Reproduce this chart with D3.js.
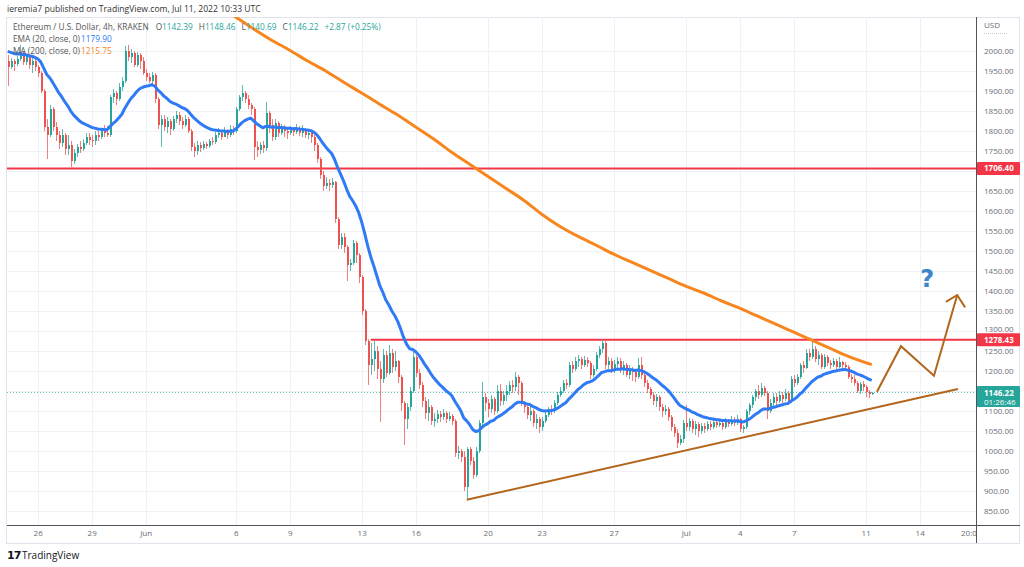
<!DOCTYPE html>
<html lang="en">
<head>
<meta charset="UTF-8">
<title>ETHUSD 4h</title>
<script src="https://d3js.org/d3.v7.min.js"></script>
<style>
body { margin: 0; background: #fff; }
svg { display: block; font-family: "Open Sans", "DejaVu Sans", sans-serif; }
</style>
</head>
<body>
<script>

var W = 1024, H = 567;
var L = 7, R = 976, T = 17, B = 525;

// 4h candles, first one May 24 08:00 UTC, open of first candle
var startTime = Date.UTC(2022, 4, 24, 8);
var firstOpen = 1975;

var closes = [
  1960,1975,1968,1980,
  1998,1972,1985,1965,1975,1960,
  1945,1900,1810,1790,1855,1810,
  1790,1770,1790,1755,1765,1725,
  1745,1760,1755,1770,1785,1778,
  1775,1790,1785,1800,1795,1790,
  1885,1895,1880,1910,1925,2000,
  1985,1995,1965,1990,1975,1945,
  1935,1925,1940,1880,1815,1830,
  1810,1825,1805,1830,1840,1825,
  1815,1830,1800,1760,1750,1765,
  1758,1768,1762,1775,1772,1790,
  1795,1785,1800,1790,1805,1800,
  1855,1885,1895,1880,1865,1855,
  1760,1752,1765,1758,1845,1815,
  1785,1820,1795,1810,1800,1795,
  1805,1798,1808,1795,1800,1790,
  1795,1785,1765,1730,1690,1662,
  1670,1665,1672,1580,1515,1535,
  1510,1465,1470,1520,1490,1435,
  1350,1275,1215,1230,1250,1205,
  1180,1240,1195,1245,1210,1225,
  1185,1120,1080,1110,1150,1235,
  1195,1165,1125,1095,1110,1075,
  1080,1092,1085,1095,1080,1088,
  1075,995,1000,985,910,1005,
  975,940,1000,1070,1135,1120,
  1105,1130,1100,1150,1125,1140,
  1150,1165,1160,1185,1170,1120,
  1110,1090,1100,1070,1080,1060,
  1075,1090,1105,1100,1120,1140,
  1150,1170,1165,1215,1205,1225,
  1230,1215,1228,1220,1190,1205,
  1240,1255,1270,1215,1225,1200,
  1218,1225,1205,1215,1190,1200,
  1198,1185,1215,1190,1170,1155,
  1140,1125,1135,1110,1100,1105,
  1085,1060,1045,1020,1030,1070,
  1060,1075,1055,1068,1050,1062,
  1055,1068,1060,1072,1065,1070,
  1060,1075,1068,1078,1070,1080,
  1055,1060,1100,1115,1135,1150,
  1140,1158,1145,1100,1120,1135,
  1125,1140,1130,1145,1125,1180,
  1170,1185,1215,1208,1245,1235,
  1255,1230,1240,1210,1235,1220,
  1215,1225,1210,1222,1215,1210,
  1185,1180,1170,1150,1168,1160,
  1148,1142.39,1146.22
];

var highs = [
  1990,1982,1980,1988,
  2015,2000,1992,1990,1982,1980,
  1965,1950,1905,1830,1865,1860,
  1822,1800,1805,1795,1790,1775,
  1755,1768,1775,1780,1795,1795,
  1790,1800,1800,1808,1815,1812,
  1890,1905,1900,1920,1935,2012,
  2015,2005,2000,1998,1995,1985,
  1955,1945,1948,1945,1885,1840,
  1840,1835,1830,1838,1850,1848,
  1835,1840,1835,1805,1770,1775,
  1772,1775,1772,1780,1785,1798,
  1808,1800,1810,1805,1815,1812,
  1860,1890,1915,1900,1890,1870,
  1860,1775,1772,1775,1872,1850,
  1830,1830,1825,1818,1815,1808,
  1812,1810,1818,1812,1815,1808,
  1805,1800,1790,1770,1735,1700,
  1685,1680,1682,1675,1585,1545,
  1545,1515,1480,1528,1525,1495,
  1440,1355,1280,1270,1275,1262,
  1225,1255,1250,1265,1255,1250,
  1228,1190,1125,1120,1160,1248,
  1240,1205,1172,1135,1130,1115,
  1095,1102,1100,1105,1100,1098,
  1092,1080,1012,1005,1000,1010,
  1010,985,1010,1078,1172,1145,
  1130,1140,1135,1165,1168,1150,
  1165,1175,1178,1197,1190,1175,
  1125,1115,1112,1105,1092,1085,
  1085,1098,1110,1115,1128,1148,
  1160,1178,1180,1222,1225,1235,
  1240,1235,1238,1235,1225,1215,
  1248,1262,1280,1275,1235,1232,
  1228,1235,1232,1225,1220,1215,
  1210,1202,1232,1235,1195,1178,
  1160,1148,1142,1140,1118,1115,
  1110,1090,1068,1055,1040,1078,
  1115,1082,1080,1075,1072,1070,
  1070,1075,1075,1080,1080,1078,
  1075,1082,1080,1088,1085,1090,
  1082,1065,1105,1120,1140,1155,
  1165,1170,1162,1150,1130,1145,
  1145,1150,1148,1155,1150,1188,
  1190,1192,1220,1225,1255,1255,
  1272,1262,1250,1245,1242,1240,
  1228,1232,1230,1235,1225,1222,
  1215,1192,1190,1175,1172,1175,
  1165,1152,1148.46
];

var lows = [
  1912,1955,1950,1962,
  1975,1965,1965,1955,1945,1950,
  1935,1895,1800,1730,1785,1800,
  1775,1755,1760,1740,1740,1710,
  1718,1735,1745,1750,1765,1765,
  1760,1765,1775,1780,1785,1785,
  1785,1870,1865,1875,1900,1920,
  1975,1970,1960,1960,1955,1940,
  1925,1920,1915,1870,1805,1760,
  1800,1795,1790,1800,1820,1815,
  1805,1810,1795,1750,1735,1740,
  1748,1752,1755,1758,1765,1768,
  1782,1778,1785,1780,1786,1790,
  1795,1850,1875,1870,1855,1840,
  1727,1735,1742,1745,1750,1795,
  1775,1778,1785,1790,1785,1780,
  1790,1788,1792,1788,1785,1782,
  1780,1770,1750,1720,1680,1650,
  1655,1650,1658,1570,1505,1505,
  1495,1425,1450,1465,1470,1420,
  1340,1265,1165,1190,1200,1180,
  1072,1170,1185,1190,1195,1200,
  1170,1100,1015,1055,1100,1145,
  1185,1155,1110,1080,1075,1065,
  1060,1070,1072,1078,1070,1075,
  1065,985,980,972,900,878,
  965,930,935,995,1065,1100,
  1085,1095,1090,1095,1112,1115,
  1125,1140,1145,1150,1140,1112,
  1095,1080,1075,1060,1055,1045,
  1050,1070,1085,1090,1095,1115,
  1135,1145,1155,1160,1195,1200,
  1210,1205,1210,1210,1180,1185,
  1200,1232,1245,1205,1205,1195,
  1195,1205,1195,1190,1185,1180,
  1175,1172,1180,1180,1160,1145,
  1130,1115,1110,1100,1085,1090,
  1075,1050,1035,1007,1015,1020,
  1050,1050,1045,1040,1035,1042,
  1045,1050,1052,1055,1058,1060,
  1052,1055,1060,1062,1062,1065,
  1048,1045,1055,1090,1108,1125,
  1130,1135,1138,1080,1095,1110,
  1115,1120,1120,1125,1118,1120,
  1160,1165,1180,1195,1205,1225,
  1230,1222,1215,1205,1205,1212,
  1205,1210,1205,1208,1205,1200,
  1180,1170,1162,1145,1142,1150,
  1135,1132,1140.69
];

// EMA 20 value just before the first visible candle
var emaSeed = 2003;

// MA 200, read once a day at 00:00 from Jun 5, plus the last bar
var maStart = Date.UTC(2022, 5, 5);
var maValues = [2115,2085,2055,2027,2002,1975,1950,1922,1895,1867,1840,1810,1780,1747,1717,
  1687,1657,1627,1592,1562,1537,1515,1492,1472,1452,1432,1412,1395,1375,1357,1337,1317,1297,
  1277,1257,1237];
var maLast = 1215.75;

var levels = [1706.40, 1278.43];
var lastPrice = 1146.22;

var xTickDates = ["2022-05-26","2022-05-29","2022-06-01","2022-06-06","2022-06-09","2022-06-13",
  "2022-06-16","2022-06-20","2022-06-23","2022-06-27","2022-07-01","2022-07-04","2022-07-07",
  "2022-07-11","2022-07-14","2022-07-16T20:00"];
var xTickLabels = ["26","29","Jun","6","9","13","16","20","23","27","Jul","4","7","11","14","20:00"];
var yTicks = [850,900,950,1000,1050,1100,1150,1200,1250,1300,1350,1400,1450,1500,1550,1600,
  1650,1700,1750,1800,1850,1900,1950,2000];
// axis labels covered by the price tags
var yHidden = [1700, 1150];

// drawings on the chart, [time, price]
var trendLine = [["2022-06-18T20:00Z", 878], ["2022-07-16T03:00Z", 1155]];
var zigzag = [["2022-07-11T15:00Z", 1148], ["2022-07-12T23:00Z", 1262],
  ["2022-07-14T19:00Z", 1188], ["2022-07-16T02:00Z", 1390]];
var arrowWings = [["2022-07-15T11:00Z", 1373], ["2022-07-16T02:00Z", 1390], ["2022-07-16T12:30Z", 1359]];
var questionMark = ["2022-07-14T10:00Z", 1410];
var resistStart = "2022-06-13T12:00Z";

var up = "#26a69a", down = "#ef5350";

function utc(s) { return new Date(s.length === 10 ? s + "T00:00Z" : (s.slice(-1) === "Z" ? s : s + "Z")); }

var x = d3.scaleUtc()
    .domain([new Date(Date.UTC(2022, 4, 24, 7, 4)), new Date(Date.UTC(2022, 6, 17, 3, 4))])
    .range([L, R]);
var y = d3.scaleLinear().domain([815, 2085]).range([B, T]);

var candles = closes.map(function(c, i) {
  var o = i === 0 ? firstOpen : closes[i - 1];
  return { t: new Date(startTime + i * 4 * 3600e3), o: o, c: c,
           h: Math.max(highs[i], o, c), l: Math.min(lows[i], o, c) };
});

var ema = [], prev = emaSeed, k = 2 / 21;
candles.forEach(function(d) {
  prev = d.c * k + prev * (1 - k);
  ema.push({ t: d.t, v: prev });
});

var ma = maValues.map(function(v, i) { return { t: new Date(maStart + i * 864e5), v: v }; });
ma.push({ t: candles[candles.length - 1].t, v: maLast });

var svg = d3.select("body").append("svg").attr("width", W).attr("height", H);

var defs = svg.append("defs");
defs.append("clipPath").attr("id", "plot")
  .append("rect").attr("x", L).attr("y", T).attr("width", R - L).attr("height", B - T);
defs.append("clipPath").attr("id", "xclip")
  .append("rect").attr("x", L).attr("y", B).attr("width", R - L).attr("height", 17);

// frame
svg.append("rect").attr("x", L - 0.5).attr("y", T + 0.5).attr("width", 1020 - L).attr("height", 543 - T)
  .attr("fill", "none").attr("stroke", "#e0e3eb");

// grid
var grid = svg.append("g").attr("clip-path", "url(#plot)");
grid.selectAll(".hg").data(yTicks).enter().append("line")
  .attr("x1", L).attr("x2", R)
  .attr("y1", function(d) { return Math.round(y(d)) + 0.5; })
  .attr("y2", function(d) { return Math.round(y(d)) + 0.5; })
  .attr("stroke", "#eef1f6");
grid.selectAll(".vg").data(xTickDates.slice(0, -1)).enter().append("line")
  .attr("y1", T).attr("y2", B)
  .attr("x1", function(d) { return Math.round(x(utc(d))) + 0.5; })
  .attr("x2", function(d) { return Math.round(x(utc(d))) + 0.5; })
  .attr("stroke", "#eef1f6");

var plot = svg.append("g").attr("clip-path", "url(#plot)");

// horizontal levels
plot.append("line").attr("x1", L).attr("x2", R)
  .attr("y1", y(levels[0])).attr("y2", y(levels[0]))
  .attr("stroke", "#f23645").attr("stroke-width", 2);
plot.append("line").attr("x1", x(utc(resistStart))).attr("x2", R)
  .attr("y1", y(levels[1])).attr("y2", y(levels[1]))
  .attr("stroke", "#f23645").attr("stroke-width", 2);

// last price dotted line
plot.append("line").attr("x1", L).attr("x2", R)
  .attr("y1", y(lastPrice)).attr("y2", y(lastPrice))
  .attr("stroke", up).attr("stroke-dasharray", "1,2").attr("opacity", 0.7);

// candles
var cg = plot.append("g").attr("shape-rendering", "crispEdges");
cg.selectAll(".wick").data(candles).enter().append("line")
  .attr("x1", function(d) { return Math.round(x(d.t)) + 0.5; })
  .attr("x2", function(d) { return Math.round(x(d.t)) + 0.5; })
  .attr("y1", function(d) { return y(d.h); })
  .attr("y2", function(d) { return y(d.l); })
  .attr("stroke", function(d) { return d.c >= d.o ? up : down; })
  .attr("opacity", 0.75);
cg.selectAll(".body").data(candles).enter().append("rect")
  .attr("x", function(d) { return Math.round(x(d.t)); })
  .attr("width", 2)
  .attr("y", function(d) { return y(Math.max(d.o, d.c)); })
  .attr("height", function(d) { return Math.max(1, Math.abs(y(d.o) - y(d.c))); })
  .attr("fill", function(d) { return d.c >= d.o ? up : down; });

// moving averages
var line = d3.line().x(function(d) { return x(d.t); }).y(function(d) { return y(d.v); });
plot.append("path").datum(ma).attr("d", line.curve(d3.curveMonotoneX))
  .attr("fill", "none").attr("stroke", "#f7861f").attr("stroke-width", 3);
plot.append("path").datum(ema).attr("d", d3.line().x(function(d) { return x(d.t); }).y(function(d) { return y(d.v); }))
  .attr("fill", "none").attr("stroke", "#2f7bf5").attr("stroke-width", 3).attr("stroke-linejoin", "round");

// drawings
var brown = "#b4651c";
var pline = d3.line().x(function(d) { return x(utc(d[0])); }).y(function(d) { return y(d[1]); });
plot.append("path").attr("d", pline(trendLine)).attr("fill", "none").attr("stroke", brown).attr("stroke-width", 2);
plot.append("path").attr("d", pline(zigzag)).attr("fill", "none").attr("stroke", brown).attr("stroke-width", 2)
  .attr("stroke-linejoin", "miter");
plot.append("path").attr("d", pline(arrowWings)).attr("fill", "none").attr("stroke", brown).attr("stroke-width", 2);
plot.append("text").attr("x", x(utc(questionMark[0]))).attr("y", y(questionMark[1]))
  .attr("text-anchor", "middle").attr("font-size", 24).attr("font-weight", "bold")
  .attr("font-family", "DejaVu Sans, sans-serif")
  .attr("fill", "#3d86c9").text("?");

// axes
svg.append("line").attr("x1", R + 0.5).attr("x2", R + 0.5).attr("y1", T).attr("y2", 543)
  .attr("stroke", "#50535e");
svg.append("line").attr("x1", L).attr("x2", 1020).attr("y1", B + 0.5).attr("y2", B + 0.5)
  .attr("stroke", "#50535e");

var yAxis = svg.append("g").attr("transform", "translate(" + R + ",0)")
  .call(d3.axisRight(y).tickValues(yTicks.filter(function(v) { return yHidden.indexOf(v) < 0; }))
    .tickSize(0).tickPadding(8).tickFormat(d3.format(".2f")));
yAxis.select(".domain").remove();
yAxis.selectAll("text").attr("font-size", 8).attr("fill", "#6a6d78").attr("font-family", "Open Sans, sans-serif");
// the 1300 label sits just above the 1278.43 tag
yAxis.selectAll(".tick").filter(function(d) { return d === 1300; }).select("text").attr("dy", "0.05em");

svg.append("text").attr("x", 984).attr("y", 28).attr("font-size", 8).attr("fill", "#6a6d78").text("USD");
svg.append("line").attr("x1", 984).attr("x2", 1008).attr("y1", 33.5).attr("y2", 33.5)
  .attr("stroke", "#c8cad0").attr("stroke-dasharray", "1,1");

var xAxis = svg.append("g").attr("clip-path", "url(#xclip)")
  .append("g").attr("transform", "translate(0," + B + ")")
  .call(d3.axisBottom(x).tickValues(xTickDates.map(utc)).tickSize(0).tickPadding(5)
    .tickFormat(function(d, i) { return xTickLabels[i]; }));
xAxis.select(".domain").remove();
xAxis.selectAll("text").attr("font-size", 8).attr("fill", "#6a6d78").attr("font-family", "Open Sans, sans-serif");

// price labels on the axis
function priceTag(v, color, second) {
  var hgt = second ? 21 : 13;
  var g = svg.append("g").attr("transform", "translate(" + (R + 1) + "," + (y(v) - 6.5) + ")");
  g.append("rect").attr("width", 43).attr("height", hgt).attr("rx", 1).attr("fill", color);
  g.append("text").attr("x", 7).attr("y", 9.5).attr("font-size", 8).attr("font-weight", "bold")
    .attr("fill", "#fff").text(d3.format(".2f")(v));
  if (second) {
    g.append("text").attr("x", 7).attr("y", 18.5).attr("font-size", 8).attr("fill", "#fff").text(second);
  }
}
priceTag(levels[0], "#f23645");
priceTag(levels[1], "#f23645");
priceTag(lastPrice, up, "01:26:46");

// header and legend
svg.append("text").attr("x", 7).attr("y", 12).attr("font-size", 8.6).attr("fill", "#333")
  .text("ieremia7 published on TradingView.com, Jul 11, 2022 10:33 UTC");

var leg = svg.append("text").attr("x", 13).attr("y", 30).attr("font-size", 8.3).attr("fill", "#555");
leg.append("tspan").text("Ethereum / U.S. Dollar, 4h, KRAKEN");
var last = candles[candles.length - 1];
var ohlc = [["O", last.o], ["H", last.h], ["L", last.l], ["C", last.c]];
ohlc.forEach(function(p, i) {
  leg.append("tspan").attr("dx", i === 0 ? 7 : 6).attr("fill", "#555").text(p[0]);
  leg.append("tspan").attr("fill", up).text(d3.format(".2f")(p[1]));
});
leg.append("tspan").attr("dx", 6).attr("fill", up).text("+2.87 (+0.25%)");

var leg2 = svg.append("text").attr("x", 13).attr("y", 42).attr("font-size", 8.3).attr("fill", "#555");
leg2.append("tspan").text("EMA (20, close, 0)");
leg2.append("tspan").attr("x", 81).attr("fill", "#2f7bf5").text("1179.90");
var leg3 = svg.append("text").attr("x", 13).attr("y", 54).attr("font-size", 8.3).attr("fill", "#555");
leg3.append("tspan").text("MA (200, close, 0)");
leg3.append("tspan").attr("x", 81).attr("fill", "#f7861f").text("1215.75");

// footer logo
svg.append("text").attr("x", 7).attr("y", 559).attr("font-size", 11).attr("font-weight", "bold")
  .attr("fill", "#131722").attr("font-family", "DejaVu Sans, sans-serif").attr("letter-spacing", -1).text("17");
svg.append("text").attr("x", 22).attr("y", 559).attr("font-size", 10).attr("fill", "#131722").text("TradingView");

</script>
</body>
</html>
